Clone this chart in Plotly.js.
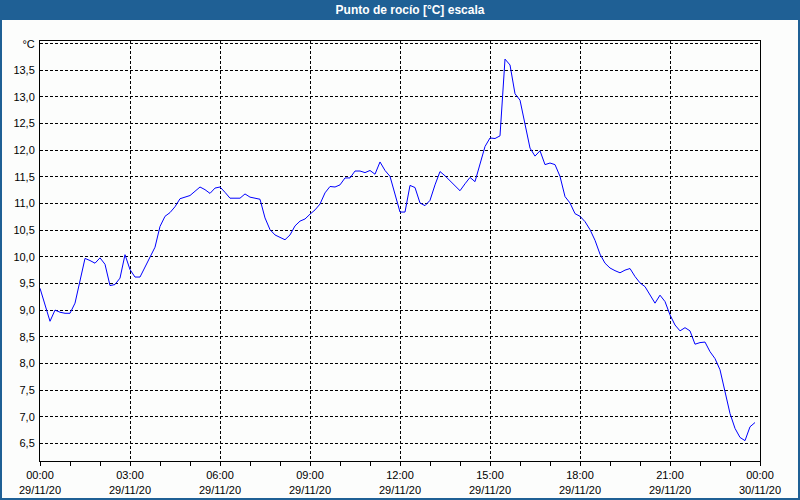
<!DOCTYPE html>
<html>
<head>
<meta charset="utf-8">
<script src="https://cdn.plot.ly/plotly-3.0.1.min.js"></script>
<style>
  html, body { margin: 0; padding: 0; background: #ffffff; }
  #chart { width: 800px; height: 500px; }
</style>
</head>
<body>
<div id="chart"></div>
<script>
// ---- data ----
var chartTitle = "Punto de rocío [°C] escala";
var startTime = "2020-11-29 00:00";
var endTime = "2020-11-30 00:00";
var sampleMinutes = 10; // regular logging interval
// dew point, °C, every 10 minutes from 00:00 29/11/20
var dewPoint = [
  9.41, 9.10, 8.79, 9.00, 8.96, 8.94, 8.94, 9.13, 9.57, 9.97, 9.93, 9.88,
  9.98, 9.86, 9.46, 9.48, 9.60, 10.04, 9.76, 9.62, 9.62, 9.81, 9.99, 10.18,
  10.57, 10.76, 10.83, 10.94, 11.09, 11.12, 11.15, 11.23, 11.31, 11.26, 11.19, 11.29,
  11.31, 11.21, 11.10, 11.10, 11.10, 11.18, 11.12, 11.10, 11.08, 10.73, 10.51, 10.41,
  10.36, 10.32, 10.41, 10.58, 10.67, 10.71, 10.80, 10.88, 10.99, 11.20, 11.32, 11.31,
  11.35, 11.48, 11.48, 11.61, 11.61, 11.58, 11.62, 11.55, 11.78, 11.62, 11.51, 11.16,
  10.84, 10.84, 11.34, 11.30, 11.01, 10.96, 11.06, 11.35, 11.60, 11.52, 11.43, 11.33,
  11.24, 11.37, 11.49, 11.41, 11.76, 12.07, 12.23, 12.22, 12.27, 13.71, 13.60, 13.06,
  12.94, 12.48, 12.04, 11.89, 11.99, 11.73, 11.76, 11.73, 11.51, 11.13, 11.01, 10.81,
  10.76, 10.66, 10.51, 10.31, 10.05, 9.88, 9.79, 9.74, 9.70, 9.75, 9.78, 9.63,
  9.51, 9.44, 9.29, 9.13, 9.28, 9.16, 8.91, 8.72, 8.61, 8.67, 8.61, 8.36,
  8.39, 8.40, 8.22, 8.09, 7.88, 7.47, 7.06, 6.78, 6.61, 6.55, 6.81, 6.89
];
var yTickVals = [6.5, 7.0, 7.5, 8.0, 8.5, 9.0, 9.5, 10.0, 10.5, 11.0, 11.5, 12.0, 12.5, 13.0, 13.5, 14.0];
var yTickText = ["6,5", "7,0", "7,5", "8,0", "8,5", "9,0", "9,5", "10,0", "10,5", "11,0", "11,5", "12,0", "12,5", "13,0", "13,5", "°C"];
var yRange = [6.168, 14.05];

// ---- build timestamps for the regular sampling ----
function pad(n) { return (n < 10 ? "0" : "") + n; }
var t0 = new Date(startTime.replace(" ", "T") + ":00Z").getTime();
var times = dewPoint.map(function (_, i) {
  var d = new Date(t0 + i * sampleMinutes * 60000);
  return d.getUTCFullYear() + "-" + pad(d.getUTCMonth() + 1) + "-" + pad(d.getUTCDate()) +
         " " + pad(d.getUTCHours()) + ":" + pad(d.getUTCMinutes());
});

var FONT = "Liberation Sans, Arial, sans-serif";
var BLUE_FRAME = "#1f6095";

var trace = {
  x: times,
  y: dewPoint,
  type: "scatter",
  mode: "lines",
  line: { color: "#0000ff", width: 1 },
  hoverinfo: "x+y"
};

var layout = {
  width: 800,
  height: 500,
  margin: { l: 40, r: 40, t: 41, b: 39, pad: 0 },
  paper_bgcolor: BLUE_FRAME,
  plot_bgcolor: "#ffffff",
  showlegend: false,
  title: {
    text: "<b>" + chartTitle + "</b>",
    font: { family: FONT, size: 12, color: "#ffffff" },
    x: 0.5125, xanchor: "center",
    y: 0.981, yanchor: "middle", yref: "container"
  },
  shapes: [{
    type: "rect", xref: "paper", yref: "paper", layer: "below",
    x0: -38 / 720, x1: 758 / 720, y0: -37 / 420, y1: 441 / 420,
    fillcolor: "#fcfdfc", line: { width: 0 }
  }],
  xaxis: {
    type: "date",
    range: [startTime, endTime],
    tickmode: "linear",
    tick0: startTime,
    dtick: 3 * 3600000,
    tickformat: "%H:%M<br>%d/%m/%y",
    ticks: "outside", ticklen: 4, tickwidth: 1, tickcolor: "#000000",
    minor: { dtick: 3600000, ticks: "outside", ticklen: 4, tickwidth: 1, tickcolor: "#000000", showgrid: false },
    showgrid: true, gridcolor: "#000000", gridwidth: 1, griddash: "3px,2px",
    showline: true, linecolor: "#000000", linewidth: 1, mirror: true,
    zeroline: false,
    tickfont: { family: FONT, size: 11, color: "#000000" },
    fixedrange: true
  },
  yaxis: {
    range: yRange,
    tickmode: "array",
    tickvals: yTickVals,
    ticktext: yTickText,
    ticks: "",
    ticklabelstandoff: 2,
    showgrid: true, gridcolor: "#000000", gridwidth: 1, griddash: "3px,2px",
    showline: true, linecolor: "#000000", linewidth: 1, mirror: true,
    zeroline: false,
    tickfont: { family: FONT, size: 11, color: "#000000" },
    fixedrange: true
  }
};

Plotly.newPlot("chart", [trace], layout, { displayModeBar: false, staticPlot: true });
</script>
</body>
</html>
